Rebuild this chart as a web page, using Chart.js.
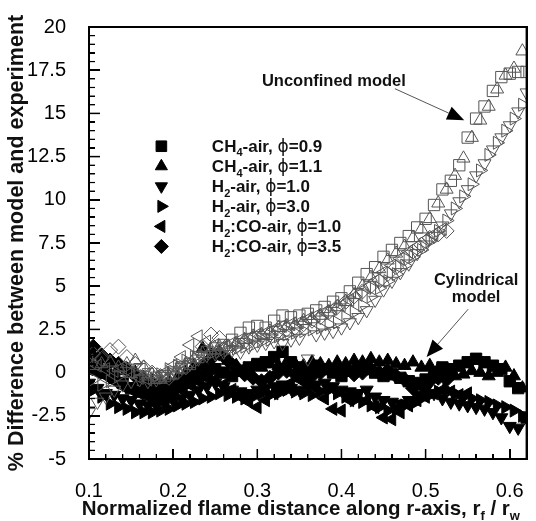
<!DOCTYPE html>
<html>
<head>
<meta charset="utf-8">
<script src="https://cdn.jsdelivr.net/npm/chart.js@4.4.1/dist/chart.umd.min.js"></script>
<style>
  html, body { margin: 0; padding: 0; background: #fff; }
  #wrap { position: relative; width: 536px; height: 521px; }
  canvas { display: block; }
  #marks { position: absolute; left: 0; top: 0; width: 536px; height: 521px; pointer-events: none; }
  #marks div { position: absolute; background: #000; }
</style>
</head>
<body>
<div id="wrap">
<canvas id="diffChart" width="536" height="521"></canvas>
<div id="marks"></div>
</div>
<script>
// x positions (r_f / r_w), two staggered grids
var rA = [0.10,0.11,0.12,0.13,0.14,0.15,0.16,0.17,0.18,0.19,0.20,0.21,0.22,0.23,0.24,0.25,0.26,0.27,0.28,0.29,
          0.30,0.31,0.32,0.33,0.34,0.35,0.36,0.37,0.38,0.39,0.40,0.41,0.42,0.43,0.44,0.45,0.46,0.47,0.48,0.49,
          0.50,0.51,0.52,0.53,0.54,0.55,0.56,0.57,0.58,0.59,0.60,0.61,0.62];
var rB = [0.105,0.115,0.125,0.135,0.145,0.155,0.165,0.175,0.185,0.195,0.205,0.215,0.225,0.235,0.245,0.255,0.265,0.275,0.285,0.295,
          0.305,0.315,0.325,0.335,0.345,0.355,0.365,0.375,0.385,0.395,0.405,0.415,0.425,0.435,0.445,0.455,0.465,0.475,0.485,0.495,
          0.505,0.515,0.525,0.535,0.545,0.555,0.565,0.575,0.585,0.595,0.605,0.615];

var xTicks = [0.1, 0.2, 0.3, 0.4, 0.5, 0.6];
var yTicks = [-5, -2.5, 0, 2.5, 5, 7.5, 10, 12.5, 15, 17.5, 20];

// unconfined model (hollow symbols)
var ch4_09_unc = [null,null,null,null,null,null,0.2,-0.1,-0.3,-0.2,0.0,0.3,0.5,0.9,1.2,1.4,1.6,1.9,2.3,2.6,
                  2.7,2.6,3.0,3.3,3.2,3.3,3.4,3.6,3.8,4.1,4.3,4.7,5.2,5.7,6.1,6.7,7.1,7.5,7.9,8.4,
                  8.9,9.7,10.6,11.1,12.0,13.6,14.7,15.4,16.3,17.1,17.3,17.4,17.4];
var ch4_11_unc = [0.4,0.5,0.6,0.3,0.5,0.7,0.3,-0.1,-0.4,-0.2,0.2,0.5,0.8,1.1,1.3,1.5,1.5,1.7,1.9,2.1,
                  2.2,2.4,2.6,2.7,2.8,3.0,3.1,3.3,3.5,3.8,4.1,4.5,5.0,5.5,6.0,6.5,6.9,7.3,7.8,8.3,
                  8.9,9.8,10.6,11.4,12.4,13.6,14.6,15.4,16.4,17.2,17.6,18.6];
var h2_10_unc = [-2.3,-1.7,-1.4,-1.0,-0.7,-0.5,-0.4,-0.5,-0.4,-0.2,0.0,0.3,0.5,0.8,1.0,1.1,1.2,1.3,1.2,1.5,
                 1.6,1.7,1.8,1.7,1.9,2.0,0.8,2.2,2.3,2.4,2.6,2.9,3.2,3.6,4.2,4.8,5.3,5.8,6.3,6.9,
                 7.4,7.9,8.5,9.2,9.9,10.6,11.4,12.1,12.9,13.6,14.3,15.1,16.2];
var h2_30_unc = [-0.4,-0.7,-0.5,-0.2,0.1,0.0,-0.2,-0.3,-0.1,0.2,0.4,0.7,0.9,1.0,1.1,1.2,1.3,1.4,1.5,1.6,
                 1.8,1.9,2.1,2.2,2.3,2.4,2.5,2.6,2.8,2.9,3.2,3.5,3.9,4.4,4.9,5.3,5.7,6.2,6.7,7.1,
                 7.6,8.2,8.8,9.5,10.2,10.9,11.7,12.6,13.3,14.0,14.7,15.5];
var h2co_10_unc = [0.7,0.4,0.2,0.1,0.3,0.0,-0.3,-0.4,-0.3,0.0,0.4,0.9,1.6,2.1,1.8,1.6,1.5,1.7,1.9,2.0,
                   2.2,2.3,2.5,2.7,2.8,2.9,3.1,3.3,3.5,3.7,3.9,4.2,4.5,4.9,5.3,5.8,6.2,6.6,7.0,7.3,
                   7.7,8.0,8.3,null,null,null,null,null,null,null,null,null,null];
var h2co_35_unc = [1.1,0.8,1.3,1.5,0.9,0.5,0.3,0.0,-0.2,-0.3,0.0,0.3,0.7,1.5,2.2,2.0,1.5,1.5,1.8,2.0,
                   2.1,2.2,2.4,2.5,2.6,2.8,3.0,3.2,3.5,3.8,4.1,4.4,4.7,5.0,5.3,5.7,6.1,6.6,7.0,7.4,
                   7.8,8.0,8.2,null,null,null,null,null,null,null,null,null];

// cylindrical model (filled symbols)
var ch4_09_cyl = [0.5,0.3,0.0,-0.3,-0.6,-0.9,-1.1,-1.2,-1.3,-1.2,-1.0,-0.8,-0.6,-0.3,0.0,0.2,0.0,-0.2,0.1,0.3,
                  0.5,0.6,0.9,1.2,0.6,0.3,0.2,0.4,0.2,0.0,-0.2,0.1,0.3,0.2,0.0,-0.2,-0.1,-0.3,-0.5,-0.6,
                  -0.4,0.0,0.3,0.2,0.4,0.6,0.8,0.6,0.4,0.2,-0.5,-0.9,-2.6];
var ch4_11_cyl = [1.0,0.8,0.5,0.3,0.1,0.0,-0.3,-0.5,-0.6,-0.5,-0.3,0.0,0.4,1.4,1.0,1.2,0.7,0.4,0.2,0.4,
                  0.3,0.5,0.4,0.6,0.5,0.4,0.6,0.5,0.4,0.6,0.5,0.7,0.6,0.8,0.6,0.7,0.5,0.4,0.6,0.3,
                  0.4,0.2,0.0,-0.2,-0.1,0.1,0.0,-0.2,0.0,0.3,-0.2,-0.9];
var h2_10_cyl = [-0.6,-0.9,-1.2,-1.3,-1.5,-1.6,-1.8,-1.9,-1.9,-1.8,-1.6,-1.5,-1.3,-1.0,-0.8,-0.6,-0.8,-1.0,-1.1,-1.2,
                 -1.0,-0.9,-0.8,-0.7,-0.9,-1.0,-0.8,-0.7,-0.6,-0.8,-1.0,-1.1,-1.2,-1.0,-1.4,-1.6,-1.7,-1.8,-1.6,-1.3,
                 -1.0,-1.2,-1.5,-1.7,-1.8,-1.9,-2.0,-2.1,-2.3,-2.6,-3.1,-3.2,-2.6];
var h2_30_cyl = [-1.0,-1.4,-1.8,-2.0,-2.1,-2.3,-2.3,-2.3,-2.2,-2.1,-1.9,-1.8,-1.7,-1.5,-1.4,-1.2,-1.3,-1.4,-1.5,-1.4,
                 -1.2,-1.3,-1.2,-1.0,-1.1,-1.2,-1.3,-1.1,-1.0,-1.2,-1.4,-1.6,-1.7,-1.9,-2.0,-2.2,-2.1,-1.9,-1.8,-1.5,
                 -1.3,-1.1,-1.0,-1.2,-1.4,-1.5,-1.6,-1.7,-1.9,-2.0,-2.2,-2.5];
var h2co_10_cyl = [0.2,0.0,-0.2,-0.5,-0.8,-1.0,-1.2,-1.4,-1.5,-1.5,-1.3,-1.0,-0.7,-0.5,-0.3,-0.4,-0.7,-1.0,-1.4,-1.7,
                   -2.0,-1.6,-1.2,-0.9,-0.6,-0.4,-0.5,-0.9,-1.5,-2.1,-2.2,-1.6,-1.3,-1.6,-2.0,-2.6,-2.7,-2.3,-1.9,-1.6,
                   -1.4,-1.2,-1.0,-1.1,-1.3,-1.2,null,null,null,null,null,null,null];
var h2co_35_cyl = [1.5,1.0,0.7,0.5,0.2,-0.2,-0.6,-0.9,-1.0,-0.9,-0.7,-0.4,0.0,0.4,0.8,1.1,0.7,0.3,-0.1,-0.3,
                   -0.5,-0.3,0.0,0.1,-0.1,-0.3,-0.2,0.0,0.2,0.3,0.1,-0.1,0.0,0.2,0.0,0.1,-0.2,-0.4,-0.9,-0.7,
                   -0.5,-0.3,-0.4,null,null,null,null,null,null,null,null,null];

var legendLabels = [
  [['CH', 'b'], ['4', 's'], ['-air, ', 'b'], ['\u03d5', 'p'], ['=0.9', 'b']],
  [['CH', 'b'], ['4', 's'], ['-air, ', 'b'], ['\u03d5', 'p'], ['=1.1', 'b']],
  [['H', 'b'], ['2', 's'], ['-air, ', 'b'], ['\u03d5', 'p'], ['=1.0', 'b']],
  [['H', 'b'], ['2', 's'], ['-air, ', 'b'], ['\u03d5', 'p'], ['=3.0', 'b']],
  [['H', 'b'], ['2', 's'], [':CO-air, ', 'b'], ['\u03d5', 'p'], ['=1.0', 'b']],
  [['H', 'b'], ['2', 's'], [':CO-air, ', 'b'], ['\u03d5', 'p'], ['=3.5', 'b']]
];

var FONT = '"Liberation Sans", Arial, Helvetica, sans-serif';
var symbols = [
  { style: 'rect', rot: 0, r: 8 },
  { style: 'triangle', rot: 0, r: 7.5 },
  { style: 'triangle', rot: 180, r: 7.5 },
  { style: 'triangle', rot: 90, r: 7.5 },
  { style: 'triangle', rot: 270, r: 7.5 },
  { style: 'rectRot', rot: 0, r: 7.5 }
];

function pts(xs, ys) {
  var out = [];
  for (var i = 0; i < Math.min(xs.length, ys.length); i++) {
    if (ys[i] !== null) out.push({ x: xs[i], y: ys[i] });
  }
  return out;
}

var uncSeries = [[rA, ch4_09_unc], [rB, ch4_11_unc], [rA, h2_10_unc], [rB, h2_30_unc], [rA, h2co_10_unc], [rB, h2co_35_unc]];
var cylSeries = [[rA, ch4_09_cyl], [rB, ch4_11_cyl], [rA, h2_10_cyl], [rB, h2_30_cyl], [rA, h2co_10_cyl], [rB, h2co_35_cyl]];

var chartSets = [];
uncSeries.forEach(function (s, i) {
  chartSets.push({
    data: pts(s[0], s[1]),
    pointStyle: symbols[i].style, pointRotation: symbols[i].rot, pointRadius: symbols[i].r,
    pointBorderColor: '#555', pointBackgroundColor: 'rgba(0,0,0,0)', pointBorderWidth: 1
  });
});
cylSeries.forEach(function (s, i) {
  chartSets.push({
    data: pts(s[0], s[1]),
    pointStyle: symbols[i].style, pointRotation: symbols[i].rot, pointRadius: symbols[i].r,
    pointBorderColor: '#000', pointBackgroundColor: '#000', pointBorderWidth: 1
  });
});

function fontFor(kind, size) {
  if (kind === 's') return 'bold ' + Math.round(size * 0.62) + 'px ' + FONT;
  if (kind === 'p') return size + 'px "DejaVu Sans", ' + FONT;
  return 'bold ' + size + 'px ' + FONT;
}

function drawParts(c, parts, x, y, size, align) {
  var w = 0;
  parts.forEach(function (p) { c.font = fontFor(p[1], size); w += c.measureText(p[0]).width; });
  var cx = align === 'center' ? x - w / 2 : x;
  c.textAlign = 'left';
  c.textBaseline = 'alphabetic';
  parts.forEach(function (p) {
    c.font = fontFor(p[1], size);
    c.fillText(p[0], cx, p[1] === 's' ? y + size * 0.25 : y);
    cx += c.measureText(p[0]).width;
  });
}

function drawArrow(c, x1, y1, x2, y2) {
  var ang = Math.atan2(y2 - y1, x2 - x1);
  var len = 17, half = 7;
  var bx = x2 - len * Math.cos(ang), by = y2 - len * Math.sin(ang);
  c.strokeStyle = '#555';
  c.lineWidth = 1;
  c.beginPath(); c.moveTo(x1, y1); c.lineTo(bx, by); c.stroke();
  c.fillStyle = '#000';
  c.beginPath();
  c.moveTo(x2, y2);
  c.lineTo(bx + half * Math.sin(ang), by - half * Math.cos(ang));
  c.lineTo(bx - half * Math.sin(ang), by + half * Math.cos(ang));
  c.closePath(); c.fill();
}

// frame and inward ticks, positions taken from the chart's scales
function frameAndTicks(chart, put) {
  var a = chart.chartArea, xs = chart.scales.x, ys = chart.scales.y;
  var L = a.left, R = a.right, T = a.top, B = a.bottom;
  put(L - 1, T - 1, R - L + 2, 2);
  put(L - 1, B - 1, R - L + 2, 2);
  put(L - 1, T - 1, 2, B - T + 2);
  put(R - 1, T - 1, 2, B - T + 2);
  for (var i = 0; i < xTicks.length; i++) {
    put(xs.getPixelForValue(xTicks[i]) - 0.75, B - 10, 1.5, 10);
    for (var k = 1; k < 5 && i < xTicks.length - 1; k++) {
      put(xs.getPixelForValue(xTicks[i] + k * 0.02) - 0.6, B - 5, 1.2, 5);
    }
  }
  for (var j = 0; j < yTicks.length; j++) {
    put(L, ys.getPixelForValue(yTicks[j]) - 0.75, 11, 1.5);
    for (var m = 1; m < 5 && j < yTicks.length - 1; m++) {
      put(L, ys.getPixelForValue(yTicks[j] + m * 0.5) - 0.6, 6, 1.2);
    }
  }
}

var overlay = {
  id: 'overlay',
  afterDraw: function (chart) {
    var c = chart.ctx, a = chart.chartArea, xs = chart.scales.x, ys = chart.scales.y;
    c.save();

    // legend
    for (var n = 0; n < legendLabels.length; n++) {
      var ly = ys.getPixelForValue(13.1 - n * 1.16);
      var lx = xs.getPixelForValue(0.186);
      var sym = symbols[n];
      c.fillStyle = '#000'; c.strokeStyle = '#000'; c.lineWidth = 1;
      Chart.helpers.drawPoint(c, {
        pointStyle: sym.style, rotation: sym.rot, radius: sym.r - 0.5, borderWidth: 1
      }, lx, ly);
      c.fillStyle = '#111';
      drawParts(c, legendLabels[n], xs.getPixelForValue(0.246), ly + 6, 17, 'left');
    }

    // annotations
    c.fillStyle = '#111';
    drawParts(c, [['Unconfined model', 'b']], xs.getPixelForValue(0.391), ys.getPixelForValue(16.6), 16.5, 'center');
    drawArrow(c, xs.getPixelForValue(0.4635), ys.getPixelForValue(16.43), xs.getPixelForValue(0.5459), ys.getPixelForValue(14.61));
    c.fillStyle = '#111';
    drawParts(c, [['Cylindrical', 'b']], xs.getPixelForValue(0.56), ys.getPixelForValue(5.05), 16.5, 'center');
    drawParts(c, [['model', 'b']], xs.getPixelForValue(0.56), ys.getPixelForValue(4.1), 16.5, 'center');
    drawArrow(c, xs.getPixelForValue(0.5506), ys.getPixelForValue(3.67), xs.getPixelForValue(0.5012), ys.getPixelForValue(0.9));

    // axis titles
    c.fillStyle = '#111';
    drawParts(c, [['Normalized flame distance along r-axis, r', 'b'], ['f', 's'], [' / r', 'b'], ['w', 's']],
      (a.left + a.right) / 2 - 7, 515, 20.5, 'center');
    c.save();
    c.translate(23, (a.top + a.bottom) / 2);
    c.rotate(-Math.PI / 2);
    drawParts(c, [['% Difference between model and experiment', 'b']], 0, 0, 21.5, 'center');
    c.restore();

    // frame on the canvas
    c.fillStyle = '#000';
    frameAndTicks(chart, function (x, y, w, h) { c.fillRect(x, y, w, h); });
    c.restore();

    // same frame as overlay boxes
    var host = document.getElementById('marks');
    host.innerHTML = '';
    frameAndTicks(chart, function (x, y, w, h) {
      var d = document.createElement('div');
      d.style.left = x + 'px'; d.style.top = y + 'px';
      d.style.width = w + 'px'; d.style.height = h + 'px';
      host.appendChild(d);
    });
  }
};

window.diffChartInstance = new Chart(document.getElementById('diffChart').getContext('2d'), {
  type: 'scatter',
  data: { datasets: chartSets },
  options: {
    responsive: false,
    animation: false,
    events: [],
    devicePixelRatio: 1,
    layout: { padding: { top: 15, right: 6, left: 0, bottom: 0 } },
    plugins: { legend: { display: false }, tooltip: { enabled: false } },
    scales: {
      x: {
        type: 'linear', min: 0.1, max: 0.62,
        grid: { display: false },
        border: { display: true, color: '#000', width: 2 },
        afterBuildTicks: function (s) { s.ticks = xTicks.map(function (v) { return { value: v }; }); },
        afterFit: function (s) { s.height = 62; },
        ticks: { padding: 12, maxRotation: 0, autoSkip: false, color: '#000', font: { family: FONT, size: 20 },
                 callback: function (v) { return String(v); } }
      },
      y: {
        type: 'linear', min: -5, max: 20,
        grid: { display: false },
        border: { display: true, color: '#000', width: 2 },
        afterBuildTicks: function (s) { s.ticks = yTicks.map(function (v) { return { value: v }; }); },
        afterFit: function (s) { s.width = 89; },
        ticks: { padding: 15, color: '#000', font: { family: FONT, size: 20 },
                 callback: function (v) { return String(v); } }
      }
    }
  },
  plugins: [overlay]
});
</script>
</body>
</html>
